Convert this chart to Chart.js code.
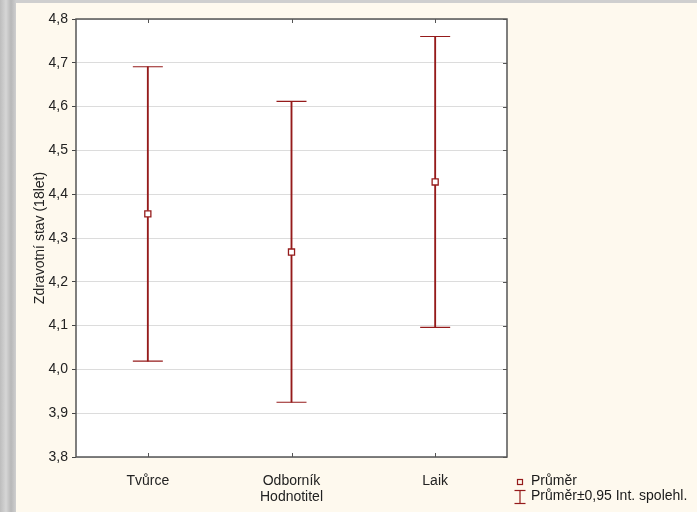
<!DOCTYPE html>
<html>
<head>
<meta charset="utf-8">
<script src="https://cdn.jsdelivr.net/npm/chart.js@4"></script>
<style>
  html, body { margin:0; padding:0; }
  body { width:697px; height:512px; position:relative; overflow:hidden;
         background: linear-gradient(90deg, #bdbdbd 0px, #d6d6d6 6px, #b8b8b8 11px, #cfcfcf 16px); }
  #bg { position:absolute; left:16px; top:3px; right:0; bottom:0; background:#fef9ee; }
  #wrap { position:absolute; left:0; top:0; width:697px; height:512px; }
  .leg { position:absolute; left:531px; font:14px "Liberation Sans", Arial, sans-serif; color:#1a1a1a; white-space:nowrap; line-height:16px; }
</style>
</head>
<body>
<div id="bg"></div>
<div id="wrap"><canvas id="c" width="697" height="512"></canvas></div>
<svg style="position:absolute;left:0;top:0" width="697" height="512">
  <rect x="517.5" y="479.5" width="5" height="5" fill="none" stroke="#951b1b" stroke-width="1.2"/>
  <line x1="520" y1="490.5" x2="520" y2="503.5" stroke="#951b1b" stroke-width="1.2"/>
  <line x1="514.5" y1="490.5" x2="525.5" y2="490.5" stroke="#951b1b" stroke-width="1.2"/>
  <line x1="514.5" y1="503.5" x2="525.5" y2="503.5" stroke="#951b1b" stroke-width="1.2"/>
</svg>
<div class="leg" style="top:472px">Průměr</div>
<div class="leg" style="top:487px">Průměr±0,95 Int. spolehl.</div>
<script>
const categories = ["Tvůrce", "Odborník", "Laik"];
const means = [4.355, 4.268, 4.428];
const lower = [4.019, 3.925, 4.096];
const upper = [4.691, 4.612, 4.760];
const yTickValues = [3.8, 3.9, 4.0, 4.1, 4.2, 4.3, 4.4, 4.5, 4.6, 4.7, 4.8];

const RED = "#951b1b";
const FONT = '"Liberation Sans", Arial, sans-serif';

const framePlugin = {
  id: "frame",
  beforeDraw(chart) {
    const {ctx, chartArea: a} = chart;
    ctx.save();
    ctx.fillStyle = "#ffffff";
    ctx.fillRect(a.left, a.top, a.right - a.left, a.bottom - a.top);
    ctx.restore();
  },
  afterDatasetsDraw(chart) {
    const {ctx, chartArea: a, scales} = chart;
    ctx.save();
    ctx.strokeStyle = "#555555";
    ctx.lineWidth = 1.5;
    ctx.strokeRect(a.left, a.top, a.right - a.left, a.bottom - a.top);
    ctx.lineWidth = 1;
    ctx.beginPath();
    scales.y.ticks.forEach((t) => {
      const y = Math.round(scales.y.getPixelForValue(t.value)) + 0.5;
      ctx.moveTo(a.right - 4, y); ctx.lineTo(a.right, y);
    });
    categories.forEach((c, i) => {
      const x = Math.round(scales.x.getPixelForValue(i)) + 0.5;
      ctx.moveTo(x, a.top); ctx.lineTo(x, a.top + 4);
      ctx.moveTo(x, a.bottom); ctx.lineTo(x, a.bottom - 4);
    });
    ctx.stroke();
    ctx.restore();
  }
};

new Chart(document.getElementById("c"), {
  data: {
    labels: categories,
    datasets: [
      {
        type: "bar",
        data: lower.map((l, i) => [l, upper[i]]),
        backgroundColor: RED,
        borderWidth: 0,
        barThickness: 1.2,
        order: 3
      },
      {
        type: "line",
        data: upper,
        showLine: false,
        pointStyle: "line",
        pointRadius: 15,
        pointBorderWidth: 1.2,
        pointBorderColor: RED,
        order: 2
      },
      {
        type: "line",
        data: lower,
        showLine: false,
        pointStyle: "line",
        pointRadius: 15,
        pointBorderWidth: 1.2,
        pointBorderColor: RED,
        order: 2
      },
      {
        type: "line",
        data: means,
        showLine: false,
        pointStyle: "rect",
        pointRadius: 4.3,
        pointBorderWidth: 1.3,
        pointBorderColor: RED,
        pointBackgroundColor: "#ffffff",
        order: 1
      }
    ]
  },
  options: {
    responsive: false,
    animation: false,
    events: [],
    layout: { padding: { left: 27.6, top: 19, right: 190, bottom: 2 } },
    plugins: { legend: { display: false }, tooltip: { enabled: false } },
    scales: {
      x: {
        type: "category",
        offset: true,
        grid: { display: false },
        border: { display: false },
        ticks: { color: "#222222", font: { family: FONT, size: 14 }, padding: 8 },
        title: { display: true, text: "Hodnotitel", color: "#222222",
                 font: { family: FONT, size: 14 }, padding: { top: 4, bottom: 4 } },
        afterFit(s) { s.height = 53; s.paddingLeft = 0; s.paddingRight = 0; }
      },
      y: {
        min: 3.8, max: 4.8,
        afterBuildTicks(s) { s.ticks = yTickValues.map(v => ({ value: v })); },
        grid: { color: "#dcdcdc", lineWidth: 1, tickColor: "#444444", tickLength: 4, drawTicks: true },
        border: { display: false },
        ticks: {
          color: "#222222", font: { family: FONT, size: 14 }, padding: 4,
          callback: (v) => Number(v).toFixed(1).replace(".", ",")
        },
        title: { display: true, text: "Zdravotní stav (18let)", color: "#222222",
                 font: { family: FONT, size: 14 }, padding: { top: 4, bottom: 4 } },
        afterFit(s) { s.width = 48.4; s.paddingTop = 0; s.paddingBottom = 0; }
      }
    }
  },
  plugins: [framePlugin]
});
</script>
</body>
</html>
